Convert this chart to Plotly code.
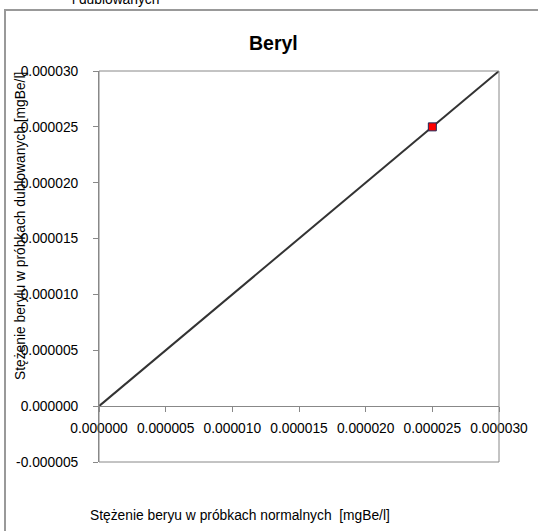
import plotly.graph_objects as go

# Data
line_x = [0.0, 0.000030]
line_y = [0.0, 0.000030]
point_x = [0.000025]
point_y = [0.000025]
tick_vals = [0.0, 0.000005, 0.000010, 0.000015, 0.000020, 0.000025, 0.000030]
y_tick_vals = [-0.000005, 0.0, 0.000005, 0.000010, 0.000015, 0.000020, 0.000025, 0.000030]
y_tick_labels = ["-0.000005", "0.000000", "0.000005", "0.000010", "0.000015",
                 "0.000020", "0.000025", "0.000030"]
title_text = "Beryl"
x_title = "Stężenie beryu w próbkach normalnych  [mgBe/l]"
y_title = "Stężenie berylu w próbkach dublowanych [mgBe/l]"
stray_text = "i dublowanych"

W, H = 538, 531
FONT = "Liberation Sans, Arial, sans-serif"
FS = 13.8

def px(x):
    return x / W

def py(y):
    return 1 - y / H

fig = go.Figure()
fig.add_trace(go.Scatter(x=line_x, y=line_y, mode="lines",
                         line=dict(color="#333333", width=2), hoverinfo="skip"))
fig.add_trace(go.Scatter(x=point_x, y=point_y, mode="markers",
                         marker=dict(symbol="square", size=8, color="#ff0000",
                                     line=dict(color="#1f2a5a", width=1))))

fig.update_layout(
    width=W, height=H, autosize=False,
    margin=dict(l=0, r=0, t=0, b=0, pad=0),
    paper_bgcolor="white", plot_bgcolor="white",
    showlegend=False,
    font=dict(family=FONT, size=FS, color="black"),
    xaxis=dict(domain=[px(99), px(499)], range=[0, 0.000030],
               anchor="free", position=py(406), automargin=False,
               tickvals=tick_vals, tickformat=".6f",
               ticks="outside", ticklen=5, tickcolor="#888888",
               ticklabelstandoff=4,
               showline=True, linecolor="#888888", linewidth=1,
               showgrid=False, zeroline=False, fixedrange=True),
    yaxis=dict(domain=[py(462), py(71)], range=[-0.000005, 0.000030],
               automargin=False,
               tickvals=y_tick_vals, ticktext=y_tick_labels,
               ticks="outside", ticklen=5, tickcolor="#888888",
               ticklabelstandoff=12,
               showline=True, linecolor="#888888", linewidth=1,
               showgrid=False, zeroline=False, fixedrange=True),
    shapes=[
        dict(type="rect", xref="paper", yref="paper",
             x0=px(99), x1=px(499), y0=py(462), y1=py(71),
             line=dict(color="#888888", width=1)),
        dict(type="rect", xref="paper", yref="paper",
             x0=px(5), x1=px(560), y0=py(560), y1=py(10),
             line=dict(color="#999999", width=2), layer="below"),
    ],
    annotations=[
        dict(text="<b>" + title_text + "</b>", x=px(273), y=py(43),
             xref="paper", yref="paper", showarrow=False,
             font=dict(size=19.5, family=FONT), xanchor="center", yanchor="middle"),
        dict(text=x_title, x=px(240), y=py(515), xref="paper", yref="paper",
             showarrow=False, font=dict(size=FS, family=FONT),
             xanchor="center", yanchor="middle"),
        dict(text=y_title, x=px(20), y=py(226), xref="paper", yref="paper",
             showarrow=False, textangle=-90, font=dict(size=FS, family=FONT),
             xanchor="center", yanchor="middle"),
        dict(text=stray_text, x=px(115), y=py(9), xref="paper", yref="paper",
             showarrow=False, font=dict(size=FS, family=FONT),
             xanchor="center", yanchor="bottom"),
    ],
)

fig.write_html("out.html", config={"displayModeBar": False},
               post_script="document.body.style.margin='0';")
